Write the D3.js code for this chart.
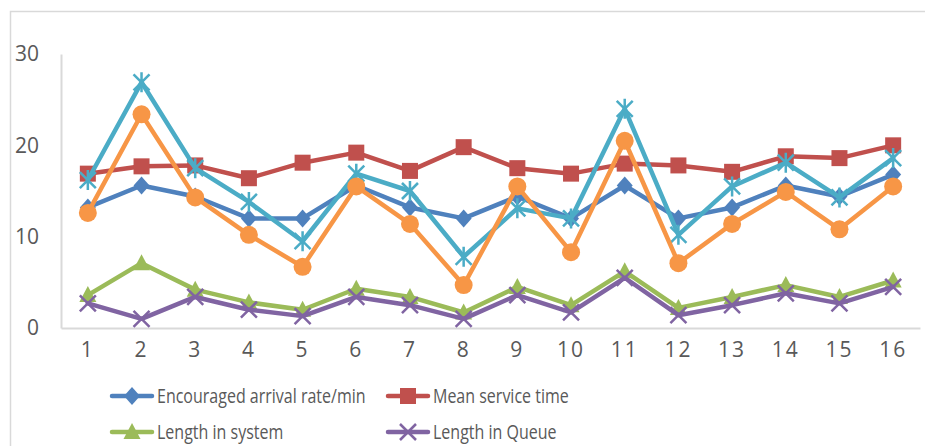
<!DOCTYPE html>
<html>
<head>
<meta charset="utf-8">
<script src="https://cdn.jsdelivr.net/npm/d3@7"></script>
<style>
  html, body { margin: 0; padding: 0; background: #fff; }
  svg { display: block; }
  text { font-family: "Open Sans", "Liberation Sans", sans-serif; fill: #595959; }
</style>
</head>
<body>
<svg id="chart" width="925" height="446"></svg>
<script>
// Sixteen runs of the queue simulation
const categories = d3.range(1, 17).map(String);

const arrivalRate   = [13.2, 15.6, 14.4, 12.0, 12.0, 15.6, 13.2, 12.0, 14.4, 12.0, 15.6, 12.0, 13.2, 15.6, 14.4, 16.8];
const serviceTime   = [16.9, 17.7, 17.8, 16.4, 18.1, 19.2, 17.2, 19.8, 17.5, 16.9, 18.0, 17.8, 17.1, 18.8, 18.6, 20.0];
const lengthSystem  = [3.6, 7.1, 4.2, 2.8, 2.0, 4.3, 3.4, 1.7, 4.5, 2.5, 6.2, 2.2, 3.4, 4.7, 3.4, 5.2];
const lengthQueue   = [2.7, 1.0, 3.4, 2.0, 1.3, 3.4, 2.5, 1.0, 3.6, 1.7, 5.5, 1.4, 2.5, 3.8, 2.7, 4.5];
const waitSystem    = [16.2, 26.9, 17.5, 13.8, 9.5, 16.9, 15.0, 7.8, 13.1, 12.0, 24.0, 10.2, 15.5, 18.1, 14.3, 18.6];
const waitQueue     = [12.6, 23.4, 14.3, 10.2, 6.7, 15.5, 11.4, 4.7, 15.5, 8.3, 20.5, 7.1, 11.4, 14.9, 10.8, 15.5];

const yTicks = [0, 10, 20, 30];

const series = [
  { name: "Encouraged arrival rate/min", values: arrivalRate,  color: "#4F81BD", marker: "diamond",  legend: true },
  { name: "Mean service time",           values: serviceTime,  color: "#C0504D", marker: "square",   legend: true },
  { name: "Length in system",            values: lengthSystem, color: "#9BBB59", marker: "triangle", legend: true },
  { name: "Length in Queue",             values: lengthQueue,  color: "#8064A2", marker: "cross",    legend: true },
  { name: "Waiting time in system",      values: waitSystem,   color: "#4BACC6", marker: "star",     legend: false },
  { name: "Waiting time in queue",       values: waitQueue,    color: "#F79646", marker: "circle",   legend: false }
];

const svg = d3.select("#chart");

// chart frame
svg.append("rect")
  .attr("x", 10.5).attr("y", 11.5)
  .attr("width", 960).attr("height", 460)
  .attr("fill", "none").attr("stroke", "#d9d9d9").attr("stroke-width", 1.5);

const x = d3.scaleBand().domain(categories).range([61, 920]).padding(0);
const y = d3.scaleLinear().domain([0, 30]).range([328, 54]);
const cx = c => x(c) + x.bandwidth() / 2;

// axes
const xAxis = svg.append("g").attr("transform", `translate(0,${y(0)})`)
  .call(d3.axisBottom(x).tickSize(0).tickPadding(14));
xAxis.select(".domain").attr("stroke", "#d9d9d9").attr("stroke-width", 2);
xAxis.selectAll("text").attr("font-size", 21).attr("letter-spacing", 2).attr("fill", "#595959")
  .attr("font-family", "Open Sans, sans-serif");

const yAxis = svg.append("g").attr("transform", `translate(61,0)`)
  .call(d3.axisLeft(y).tickValues(yTicks).tickSize(0).tickPadding(22));
yAxis.select(".domain").attr("stroke", "#d9d9d9").attr("stroke-width", 2);
yAxis.selectAll("text").attr("font-size", 21).attr("fill", "#595959")
  .attr("font-family", "Open Sans, sans-serif");

// marker shapes
function drawMarker(g, type, color, px, py) {
  if (type === "diamond") {
    g.append("path").attr("d", `M${px},${py - 9}L${px + 8},${py}L${px},${py + 9}L${px - 8},${py}Z`).attr("fill", color);
  } else if (type === "square") {
    g.append("rect").attr("x", px - 8).attr("y", py - 8).attr("width", 16).attr("height", 16).attr("fill", color);
  } else if (type === "triangle") {
    g.append("path").attr("d", `M${px},${py - 9}L${px + 8.5},${py + 7}L${px - 8.5},${py + 7}Z`).attr("fill", color);
  } else if (type === "circle") {
    g.append("circle").attr("cx", px).attr("cy", py).attr("r", 9).attr("fill", color);
  } else if (type === "cross") {
    g.append("path").attr("d", `M${px - 8},${py - 8}L${px + 8},${py + 8}M${px + 8},${py - 8}L${px - 8},${py + 8}`)
      .attr("stroke", color).attr("stroke-width", 2.5);
  } else if (type === "star") {
    g.append("path").attr("d", `M${px - 8},${py - 8}L${px + 8},${py + 8}M${px + 8},${py - 8}L${px - 8},${py + 8}M${px},${py - 10}L${px},${py + 10}`)
      .attr("stroke", color).attr("stroke-width", 2.5);
  }
}

const line = d3.line().x((d, i) => cx(categories[i])).y(d => y(d));

series.forEach(s => {
  const g = svg.append("g");
  g.append("path").datum(s.values).attr("d", line)
    .attr("fill", "none").attr("stroke", s.color).attr("stroke-width", 4.5)
    .attr("stroke-linejoin", "round").attr("stroke-linecap", "round");
  s.values.forEach((v, i) => drawMarker(g, s.marker, s.color, cx(categories[i]), y(v)));
});

// legend (text narrowed horizontally to fit the two columns)
const legendPos = [[112, 396], [388, 396], [112, 432], [388, 432]];
series.filter(s => s.legend).forEach((s, i) => {
  const [lx, ly] = legendPos[i];
  const g = svg.append("g");
  g.append("line").attr("x1", lx).attr("x2", lx + 40).attr("y1", ly).attr("y2", ly)
    .attr("stroke", s.color).attr("stroke-width", 4.5).attr("stroke-linecap", "round");
  drawMarker(g, s.marker, s.color, lx + 20, ly);
  g.append("text")
    .attr("transform", `translate(${lx + 45},${ly}) scale(0.8,1)`)
    .attr("dy", "0.35em")
    .attr("font-size", 20).text(s.name);
});
</script>
</body>
</html>
